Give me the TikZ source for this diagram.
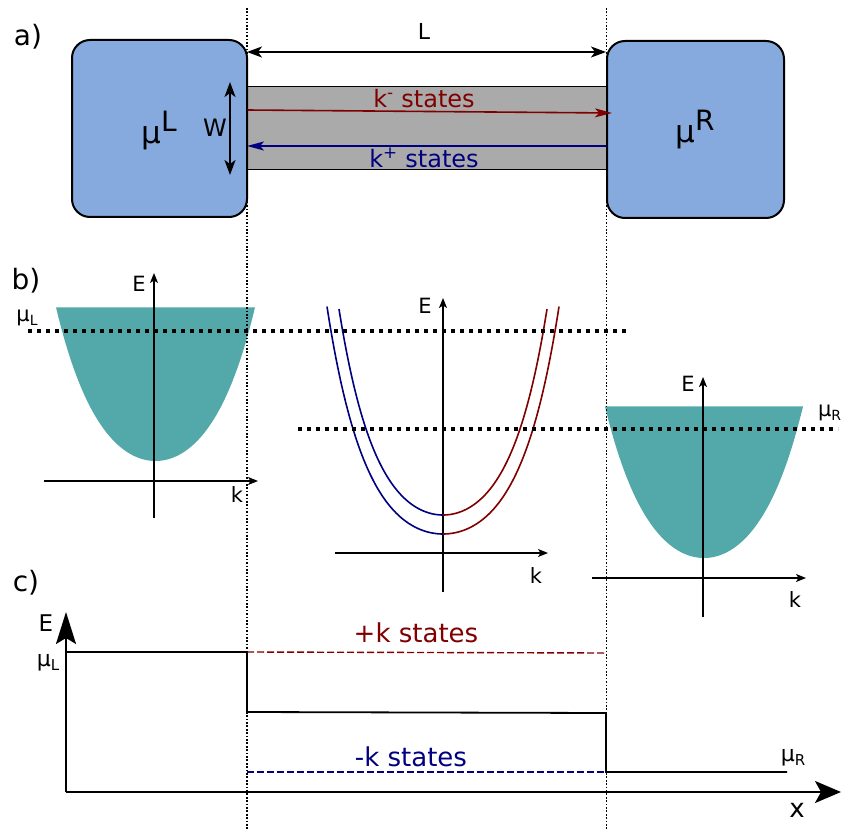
\documentclass[tikz,border=0pt]{standalone}
\usepackage{fontspec}
\setmainfont{DejaVu Sans}
\usetikzlibrary{arrows.meta}
\definecolor{boxblue}{HTML}{87AADE}
\definecolor{chgrey}{HTML}{AAAAAA}
\definecolor{tealfill}{HTML}{53A9A9}
\definecolor{dred}{HTML}{800000}
\definecolor{dblue}{HTML}{000080}
\newcommand\myfs[1]{\fontsize{#1pt}{#1pt}\selectfont}
\begin{document}
\begin{tikzpicture}[x=1pt,y=-1pt,
  txt/.style={inner sep=0pt, outer sep=0pt},
  reservoir/.style={draw=black, line width=2pt, fill=boxblue, rounded corners=18pt, inner sep=0pt, minimum height=177pt},
  channel/.style={draw=black, line width=1pt, fill=chgrey, inner sep=0pt},
  vdot/.style={line width=1.7pt, dash pattern=on 1.7pt off 1.7pt},
  hdot/.style={line width=3.5pt, dash pattern=on 3.5pt off 5.5pt},
  smallaxis/.style={line width=1.4pt, -{Stealth[length=10pt,width=8pt,inset=2.5pt]}},
  dimarrow/.style={line width=1.7pt, {Stealth[length=15pt,width=11pt,inset=4pt]}-{Stealth[length=15pt,width=11pt,inset=4pt]}},
  statearrow/.style={line width=1.6pt, -{Stealth[length=17pt,width=9pt,inset=4pt]}},
  bigaxis/.style={line width=2pt, -{Stealth[length=32pt,width=20pt,inset=6pt]}},
  xaxis/.style={line width=2pt, -{Stealth[length=26pt,width=22pt,inset=6pt]}},
  level/.style={line width=1.8pt},
  dashlevel/.style={line width=1.4pt, dash pattern=on 7pt off 3pt}
]
\useasboundingbox (0,0) rectangle (841,829);

% ---------- a) ----------
\node[txt] (la) at (28,37) {\myfs{28}a)};
\node[channel, minimum width=360pt, minimum height=83pt] (chan) at (427,128.5) {};
\node[reservoir, minimum width=175pt] (resL) at (159.5,128.5) {};
\node[reservoir, minimum width=177pt] (resR) at (695.5,129.5) {};
\node[txt] (muL) at (159,131) {\myfs{31}μ\raisebox{12pt}{\myfs{28}L}};
\node[txt] (muR) at (695,130) {\myfs{31}μ\raisebox{12pt}{\myfs{28}R}};

\coordinate (Ls) at (247,52);
\coordinate (Le) at (606,52);
\draw[dimarrow] (Ls) -- (Le);
\node[txt] (Llab) at (424,31) {\myfs{22}L};

\coordinate (Ws) at (230,82);
\coordinate (We) at (230,175);
\draw[dimarrow, line width=2pt] (Ws) -- (We);
\node[txt] (Wlab) at (215,128) {\myfs{24}W};

\coordinate (rs) at (247,110);
\coordinate (re) at (612,113);
\draw[statearrow, dred] (rs) -- (re);
\node[txt, text=dred] (kminus) at (424,99) {\myfs{24}k\textsuperscript{-} states};

\coordinate (bs) at (607,146);
\coordinate (be) at (247,146);
\draw[statearrow, dblue] (bs) -- (be);
\node[txt, text=dblue] (kplus) at (424,158) {\myfs{24}k\textsuperscript{+} states};

% ---------- b) ----------
\node[txt] (lb) at (26,281) {\myfs{28}b)};

% left band
\fill[tealfill] plot[domain=-99.5:99.5, samples=100] ({155.5+\x}, {461-47.8*(cosh(\x/47)-1)}) -- cycle;
\coordinate (lEa) at (154,518);
\coordinate (lEb) at (154,273);
\coordinate (lka) at (44,481);
\coordinate (lkb) at (258,481);
\draw[smallaxis] (lEa) -- (lEb);
\draw[smallaxis] (lka) -- (lkb);
\node[txt] (lE) at (139,284) {\myfs{21}E};
\node[txt] (lk) at (237,495) {\myfs{21}k};
\node[txt] (muLb) at (27,318) {\myfs{21}μ\raisebox{-4pt}{\myfs{14}L}};

% right band
\fill[tealfill] plot[domain=-99:99, samples=100] ({704+\x}, {558-47.8*(cosh(\x/47)-1)}) -- cycle;
\coordinate (rEa) at (703,617);
\coordinate (rEb) at (703,377);
\coordinate (rka) at (592,578);
\coordinate (rkb) at (806,578);
\draw[smallaxis] (rEa) -- (rEb);
\draw[smallaxis] (rka) -- (rkb);
\node[txt] (rE) at (688,384) {\myfs{21}E};
\node[txt] (rk) at (795,600) {\myfs{21}k};
\node[txt, anchor=west] (muRb) at (818,413) {\myfs{21}μ\raisebox{-4pt}{\myfs{14}R}};

% middle dispersion
\coordinate (mEa) at (443,592);
\coordinate (mEb) at (443,298);
\coordinate (mka) at (335,553);
\coordinate (mkb) at (548,553);
\draw[smallaxis] (mEa) -- (mEb);
\draw[smallaxis] (mka) -- (mkb);
\node[txt] (mE) at (425,306) {\myfs{21}E};
\node[txt] (mk) at (536,576) {\myfs{21}k};

\draw[dblue, line width=1.6pt] plot[domain=-116:0, samples=80] ({443+\x}, {534-25.8*(cosh(\x/39)-1)});
\draw[dblue, line width=1.6pt] plot[domain=-104:0, samples=80] ({443+\x}, {515-28.05*(cosh(\x/37)-1)});
\draw[dred, line width=1.6pt] plot[domain=0:116, samples=80] ({443+\x}, {534-25.8*(cosh(\x/39)-1)});
\draw[dred, line width=1.6pt] plot[domain=0:104, samples=80] ({443+\x}, {515-28.05*(cosh(\x/37)-1)});

\coordinate (d1a) at (28,331);
\coordinate (d1b) at (626,331);
\coordinate (d2a) at (298,429);
\coordinate (d2b) at (838,429);
\draw[hdot] (d1a) -- (d1b);
\draw[hdot] (d2a) -- (d2b);

% ---------- c) ----------
\node[txt] (lc) at (26,583) {\myfs{28}c)};
\coordinate (org) at (66,792);
\coordinate (Etip) at (66,612);
\coordinate (xtip) at (841,792);
\draw[bigaxis] (org) -- (Etip);
\draw[xaxis] (org) -- (xtip);
\node[txt] (cE) at (46,623) {\myfs{23}E};
\node[txt] (cx) at (797,810) {\myfs{26}x};
\node[txt] (cmuL) at (48,663) {\myfs{22}μ\raisebox{-4pt}{\myfs{15}L}};
\node[txt] (cmuR) at (793,758) {\myfs{22}μ\raisebox{-4pt}{\myfs{15}R}};

\coordinate (p0) at (66,652);
\coordinate (p1) at (247,652);
\coordinate (p2) at (247,712);
\coordinate (p3) at (606,713);
\coordinate (p4) at (606,772);
\coordinate (p5) at (787,772);
\draw[level] (p0) -- (p1) -- (p2) -- (p3) -- (p4) -- (p5);

\coordinate (r1) at (247,652);
\coordinate (r2) at (606,653);
\draw[dashlevel, dred] (r1) -- (r2);
\coordinate (b1) at (247,772);
\coordinate (b2) at (606,772);
\draw[dashlevel, dblue] (b1) -- (b2);
\node[txt, text=dred] (pk) at (416,633) {\myfs{26}+k states};
\node[txt, text=dblue] (mkst) at (411,757) {\myfs{26}-k states};

% vertical dotted guides
\coordinate (v1a) at (247,8);
\coordinate (v1b) at (247,829);
\coordinate (v2a) at (606.5,8);
\coordinate (v2b) at (606.5,829);
\draw[vdot] (v1a) -- (v1b);
\draw[vdot] (v2a) -- (v2b);
\end{tikzpicture}
\end{document}
